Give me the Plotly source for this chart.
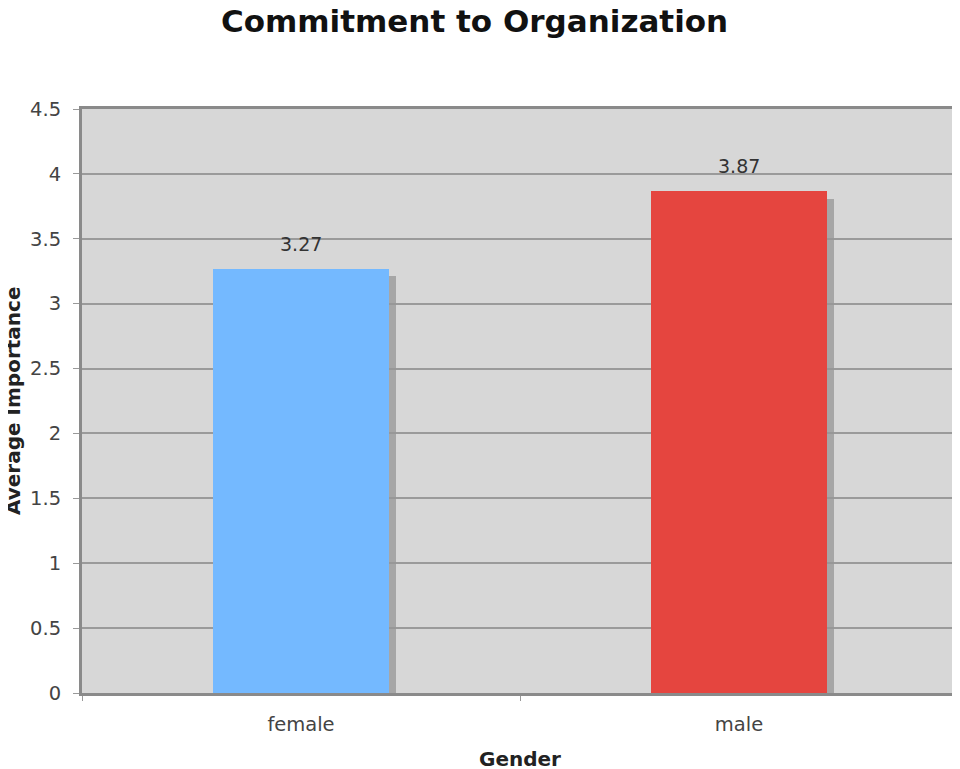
import plotly.graph_objects as go

categories = ["female", "male"]
values = [3.27, 3.87]
colors = ["#74b9ff", "#e5453f"]
labels = ["3.27", "3.87"]

fig = go.Figure()
# shadow
fig.add_trace(go.Bar(
    x=categories, y=[v - 0.06 for v in values], width=0.4, offset=-0.2 + 0.018,
    marker=dict(color="rgba(150,150,150,0.75)", line=dict(width=0)),
    hoverinfo="skip", showlegend=False))
fig.add_trace(go.Bar(
    x=categories, y=values, width=0.4, offset=-0.2,
    marker=dict(color=colors, line=dict(width=0)),
    showlegend=False))

for c, v, t in zip(categories, values, labels):
    fig.add_annotation(x=c, y=v, text=t, showarrow=False, yanchor="middle", yshift=25,
                       font=dict(family="DejaVu Sans", size=19, color="#333333"))

# y-axis title
fig.add_annotation(text="<b>Average Importance</b>", xref="paper", yref="paper",
                   x=0, y=0.5, xanchor="center", yanchor="middle", xshift=-69,
                   textangle=-90, showarrow=False,
                   font=dict(family="DejaVu Sans", size=20, color="#222222"))

fig.update_layout(
    width=960, height=769,
    margin=dict(l=74, r=10, t=101, b=84),
    paper_bgcolor="white", plot_bgcolor="#d7d7d7",
    barmode="overlay", bargap=0,
    title=dict(text="<b>Commitment to Organization</b>", x=0.486, xanchor="center",
               xref="container", yref="container",
               y=0.9831, yanchor="middle",
               font=dict(family="DejaVu Sans", size=31, color="#111111")),
    font=dict(family="DejaVu Sans", color="#333333"),
)
fig.update_xaxes(
    tickson="boundaries", ticks="outside", ticklen=5, tickcolor="#999999",
    showline=True, linecolor="#8a8a8a", linewidth=3, mirror=True,
    showgrid=False, tickfont=dict(size=19.5, color="#444444"),
    ticklabelstandoff=12, automargin=False,
    title=dict(text="<b>Gender</b>", font=dict(size=20, color="#222222"), standoff=17),
)
fig.update_yaxes(
    range=[0, 4.5], dtick=0.5, tickformat="~g",
    ticks="outside", ticklen=6, tickcolor="#999999",
    showline=True, linecolor="#8a8a8a", linewidth=3, mirror=True,
    showgrid=True, gridcolor="#9a9a9a", gridwidth=1.5,
    zeroline=False, tickfont=dict(size=19.5, color="#444444"),
    ticklabelstandoff=8, automargin=False,
)
fig.write_html("out.html")
